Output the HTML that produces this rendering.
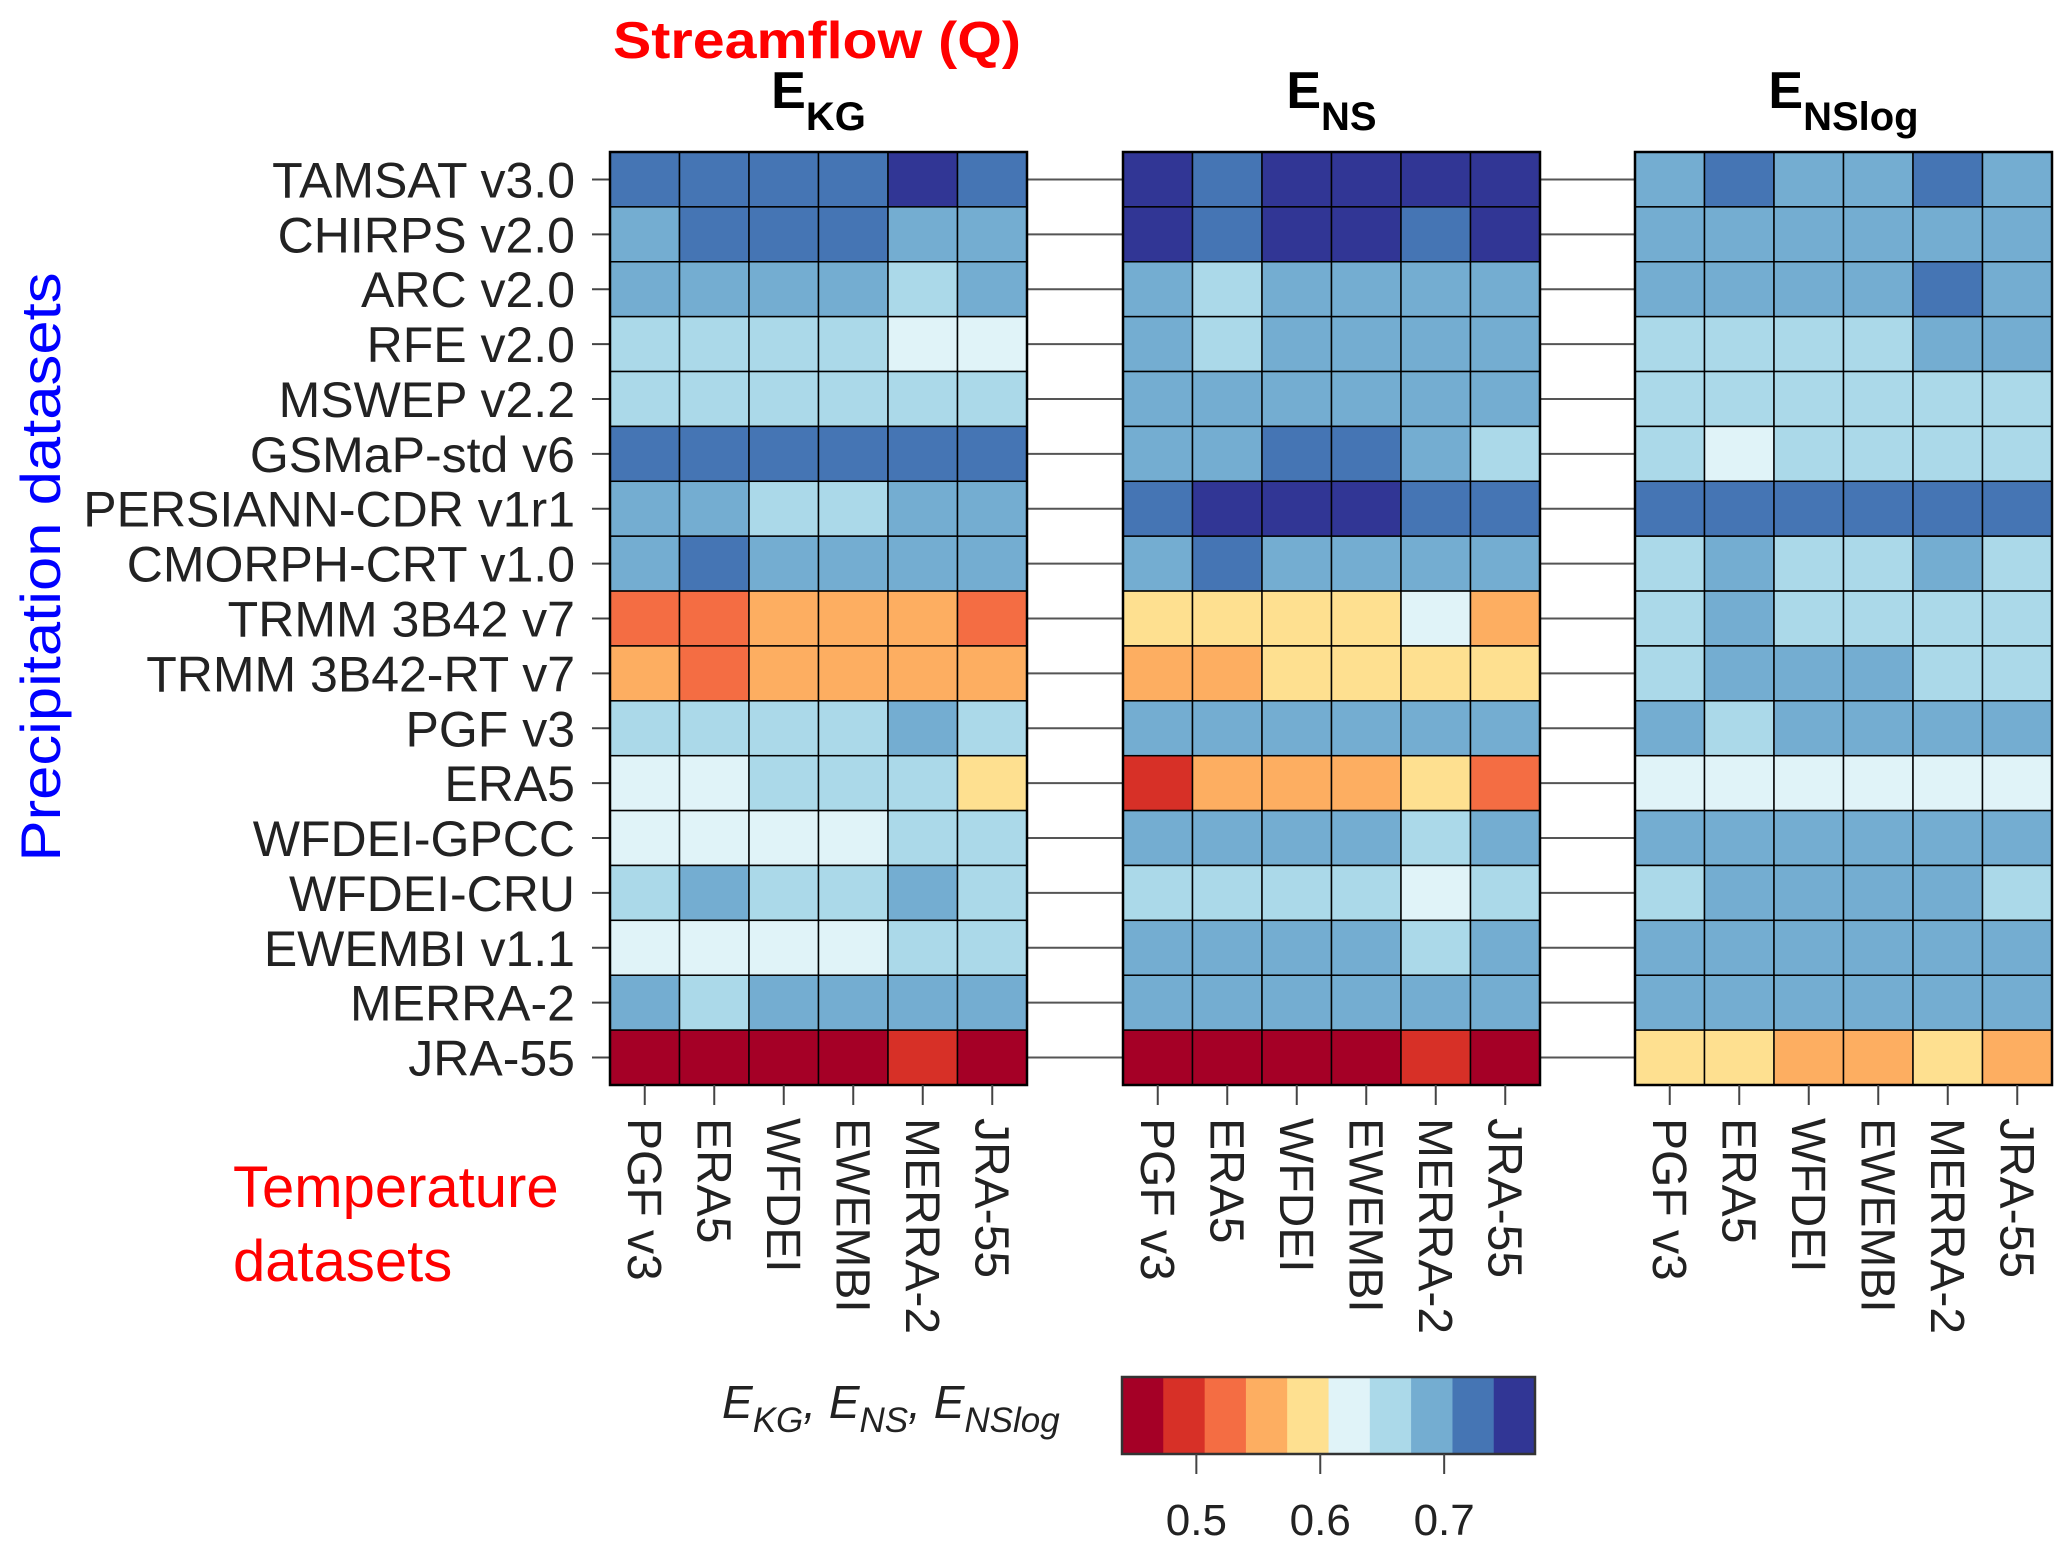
<!DOCTYPE html>
<html><head><meta charset="utf-8"><style>
html,body{margin:0;padding:0;background:#fff;}
svg{display:block;font-family:"Liberation Sans",sans-serif;}
</style></head><body>
<svg id="chart" width="2067" height="1554" viewBox="0 0 2067 1554" xmlns="http://www.w3.org/2000/svg">
<text x="613" y="58" font-size="52" font-weight="bold" fill="#ff0000" textLength="408" lengthAdjust="spacingAndGlyphs">Streamflow (Q)</text>
<text transform="translate(60,567) rotate(-90)" text-anchor="middle" font-size="56" fill="#0000ff" textLength="589" lengthAdjust="spacingAndGlyphs">Precipitation datasets</text>
<text font-size="58" fill="#ff0000"><tspan x="233" y="1207">Temperature</tspan><tspan x="233" y="1281">datasets</tspan></text>
<text x="722" y="1418" font-size="46" font-style="italic" fill="#222">E<tspan font-size="35" dy="14">KG</tspan><tspan dy="-14">, E</tspan><tspan font-size="35" dy="14">NS</tspan><tspan dy="-14">, E</tspan><tspan font-size="35" dy="14">NSlog</tspan></text>
<g id="layer"></g>
</svg>
<script>
const rowLabels=["TAMSAT v3.0","CHIRPS v2.0","ARC v2.0","RFE v2.0","MSWEP v2.2","GSMaP-std v6","PERSIANN-CDR v1r1","CMORPH-CRT v1.0","TRMM 3B42 v7","TRMM 3B42-RT v7","PGF v3","ERA5","WFDEI-GPCC","WFDEI-CRU","EWEMBI v1.1","MERRA-2","JRA-55"];
const colLabels=["PGF v3","ERA5","WFDEI","EWEMBI","MERRA-2","JRA-55"];
const panelTitles=[["E","KG"],["E","NS"],["E","NSlog"]];
const colorBreaks=[0.44,0.4733,0.5067,0.54,0.5733,0.6067,0.64,0.6733,0.7067,0.74,0.7733];
const palette=["#a50026","#d73027","#f46d43","#fdae61","#fee090","#e0f3f8","#abd9e9","#74add1","#4575b4","#313695"];
const cbTicks=[0.5,0.6,0.7];
const ekg=[
[0.72,0.72,0.72,0.72,0.76,0.72],[0.69,0.72,0.72,0.72,0.69,0.69],[0.69,0.69,0.69,0.69,0.66,0.69],
[0.66,0.66,0.66,0.66,0.62,0.62],[0.66,0.66,0.66,0.66,0.66,0.66],[0.72,0.72,0.72,0.72,0.72,0.72],
[0.69,0.69,0.66,0.66,0.69,0.69],[0.69,0.72,0.69,0.69,0.69,0.69],[0.52,0.52,0.56,0.56,0.56,0.52],
[0.56,0.52,0.56,0.56,0.56,0.56],[0.66,0.66,0.66,0.66,0.69,0.66],[0.62,0.62,0.66,0.66,0.66,0.59],
[0.62,0.62,0.62,0.62,0.66,0.66],[0.66,0.69,0.66,0.66,0.69,0.66],[0.62,0.62,0.62,0.62,0.66,0.66],
[0.69,0.66,0.69,0.69,0.69,0.69],[0.46,0.46,0.46,0.46,0.49,0.46]];
const ens=[
[0.76,0.72,0.76,0.76,0.76,0.76],[0.76,0.72,0.76,0.76,0.72,0.76],[0.69,0.66,0.69,0.69,0.69,0.69],
[0.69,0.66,0.69,0.69,0.69,0.69],[0.69,0.69,0.69,0.69,0.69,0.69],[0.69,0.69,0.72,0.72,0.69,0.66],
[0.72,0.76,0.76,0.76,0.72,0.72],[0.69,0.72,0.69,0.69,0.69,0.69],[0.59,0.59,0.59,0.59,0.62,0.56],
[0.56,0.56,0.59,0.59,0.59,0.59],[0.69,0.69,0.69,0.69,0.69,0.69],[0.49,0.56,0.56,0.56,0.59,0.52],
[0.69,0.69,0.69,0.69,0.66,0.69],[0.66,0.66,0.66,0.66,0.62,0.66],[0.69,0.69,0.69,0.69,0.66,0.69],
[0.69,0.69,0.69,0.69,0.69,0.69],[0.46,0.46,0.46,0.46,0.49,0.46]];
const enslog=[
[0.69,0.72,0.69,0.69,0.72,0.69],[0.69,0.69,0.69,0.69,0.69,0.69],[0.69,0.69,0.69,0.69,0.72,0.69],
[0.66,0.66,0.66,0.66,0.69,0.69],[0.66,0.66,0.66,0.66,0.66,0.66],[0.66,0.62,0.66,0.66,0.66,0.66],
[0.72,0.72,0.72,0.72,0.72,0.72],[0.66,0.69,0.66,0.66,0.69,0.66],[0.66,0.69,0.66,0.66,0.66,0.66],
[0.66,0.69,0.69,0.69,0.66,0.66],[0.69,0.66,0.69,0.69,0.69,0.69],[0.62,0.62,0.62,0.62,0.62,0.62],
[0.69,0.69,0.69,0.69,0.69,0.69],[0.66,0.69,0.69,0.69,0.69,0.66],[0.69,0.69,0.69,0.69,0.69,0.69],
[0.69,0.69,0.69,0.69,0.69,0.69],[0.59,0.59,0.56,0.56,0.59,0.56]];
const panels=[ekg,ens,enslog];

const NS="http://www.w3.org/2000/svg";
const layer=document.getElementById('layer');
function mk(tag,attrs,parent){const e=document.createElementNS(NS,tag);for(const k in attrs)e.setAttribute(k,attrs[k]);(parent||layer).appendChild(e);return e;}
const top0=152,bot0=1085,rowH=(bot0-top0)/rowLabels.length;
const panelX=[610,1123,1635],panelW=417,colW=panelW/colLabels.length;
function yPos(i){return top0+i*rowH;}
function xPos(p,j){return panelX[p]+j*colW;}
function colorOf(v){for(let k=0;k<palette.length;k++){if(v<colorBreaks[k+1])return palette[k];}return palette[palette.length-1];}

rowLabels.forEach((lab,i)=>{
  const cy=yPos(i)+rowH/2;
  const t=mk('text',{x:575,y:cy+18,'text-anchor':'end','font-size':50,fill:'#222'});
  
  
  t.textContent=lab;
  const tk=mk('line',{x1:592,x2:610,y1:cy,y2:cy,stroke:'#444','stroke-width':2});
  
  
  for(let p=0;p<2;p++){
    const c=mk('line',{x1:panelX[p]+panelW,x2:panelX[p+1],y1:cy,y2:cy,stroke:'#555','stroke-width':2});
    
    
  }
});
panels.forEach((data,p)=>{
  data.forEach((row,i)=>{
    row.forEach((v,j)=>{
      const r=mk('rect',{x:xPos(p,j),y:yPos(i),width:colW,height:rowH,fill:colorOf(v),stroke:'#000','stroke-width':1.5});
      
      
    });
  });
  const b=mk('rect',{x:panelX[p],y:top0,width:panelW,height:bot0-top0,fill:'none',stroke:'#000','stroke-width':2.5});
  
  
  const cx=panelX[p]+panelW/2;
  const tt=mk('text',{x:cx,y:108,'text-anchor':'middle','font-size':52,'font-weight':'bold',fill:'#000'});
  
  
  tt.textContent=panelTitles[p][0];
  const sub=mk('tspan',{dy:22,'font-size':40},tt);
  sub.textContent=panelTitles[p][1];
  colLabels.forEach((lab,j)=>{
    const x=xPos(p,j)+colW/2;
    const tk=mk('line',{x1:x,x2:x,y1:bot0,y2:bot0+20,stroke:'#444','stroke-width':2});
    
    
    const t=mk('text',{transform:`translate(${x-17},1118) rotate(90)`,'font-size':48,fill:'#222'});
    
    
    t.textContent=lab;
  });
});
const cbX=1122,cbW=413,cbY=1377,cbH=77;
const cbMin=colorBreaks[0],cbMax=colorBreaks[colorBreaks.length-1];
function cbx(v){return cbX+(v-cbMin)/(cbMax-cbMin)*cbW;}
palette.forEach((c,k)=>{
  const r=mk('rect',{x:cbx(colorBreaks[k]),y:cbY,width:cbx(colorBreaks[k+1])-cbx(colorBreaks[k])+0.5,height:cbH,fill:c});
  
  
});
const cbb=mk('rect',{x:cbX,y:cbY,width:cbW,height:cbH,fill:'none',stroke:'#333','stroke-width':2.5});


cbTicks.forEach(v=>{
  const x=cbx(v);
  const l=mk('line',{x1:x,x2:x,y1:cbY+cbH,y2:cbY+cbH+20,stroke:'#444','stroke-width':2});
  
  
  const t=mk('text',{x:x,y:1535,'text-anchor':'middle','font-size':44,fill:'#222'});
  
  
  t.textContent=v.toFixed(1);
});
</script>
</body></html>
